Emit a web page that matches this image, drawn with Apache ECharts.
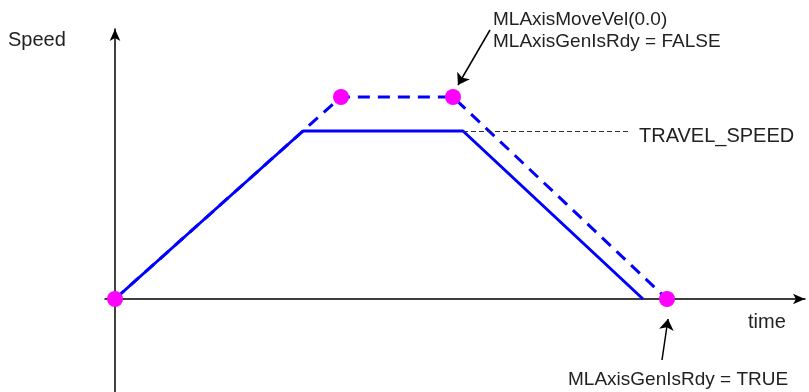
<!DOCTYPE html>
<html>
<head>
<meta charset="utf-8">
<script src="https://cdn.jsdelivr.net/npm/echarts@6/dist/echarts.min.js"></script>
<style>
  html, body { margin: 0; padding: 0; background: #fff; }
  #chart { width: 809px; height: 392px; }
</style>
</head>
<body>
<div id="chart"></div>
<script>
// profile corners (time / speed units)
const plannedTime = [0, 188, 348, 528];
const plannedSpeed = [0, 168, 168, 0];
const actualTime = [0, 226, 338, 552];
const actualSpeed = [0, 202, 202, 0];
const travelSpeed = 168;
const travelLineEnd = 513;

const FONT = '19px "Liberation Sans", Arial, sans-serif';
const BIG = '20px "Liberation Sans", Arial, sans-serif';

const chart = echarts.init(document.getElementById('chart'));

const zip = (xs, ys) => xs.map((x, i) => [x, ys[i]]);

const option = {
    animation: false,
    grid: { left: 105, right: 4, top: 29, bottom: 0 },
    xAxis: {
        type: 'value',
        min: -10,
        max: 690,
        axisLine: {
            onZero: true,
            symbol: ['none', 'arrow'],
            symbolSize: [8, 12],
            lineStyle: { color: '#000', width: 1.5 }
        },
        axisTick: { show: false },
        axisLabel: { show: false },
        splitLine: { show: false }
    },
    yAxis: {
        type: 'value',
        min: -93,
        max: 270,
        axisLine: {
            onZero: true,
            symbol: ['none', 'arrow'],
            symbolSize: [8, 12],
            lineStyle: { color: '#000', width: 1.5 }
        },
        axisTick: { show: false },
        axisLabel: { show: false },
        splitLine: { show: false }
    },
    series: [
        {
            name: 'planned',
            type: 'line',
            data: zip(plannedTime, plannedSpeed),
            symbol: 'none',
            lineStyle: { color: '#0000ff', width: 3 },
            markLine: {
                silent: true,
                symbol: 'none',
                label: { show: false },
                lineStyle: { color: '#333', width: 1, type: [5, 3] },
                data: [[
                    { coord: [plannedTime[2], travelSpeed] },
                    { coord: [travelLineEnd, travelSpeed] }
                ]]
            }
        },
        {
            name: 'actual',
            type: 'line',
            data: zip(actualTime, actualSpeed),
            symbol: 'none',
            lineStyle: { color: '#0000ff', width: 3, type: [12, 8] },
            markLine: {
                silent: true,
                label: { show: false },
                symbolSize: 11,
                lineStyle: { color: '#000', width: 1.5, type: 'solid' },
                data: [
                    [
                        { coord: [375, 269], symbol: 'none' },
                        { coord: [343, 214], symbol: 'arrow' }
                    ],
                    [
                        { coord: [547, -61], symbol: 'none' },
                        { coord: [553, -20], symbol: 'arrow' }
                    ]
                ]
            }
        },
        {
            name: 'events',
            type: 'scatter',
            data: zip(actualTime, actualSpeed),
            symbolSize: 16,
            itemStyle: { color: '#ff00ff', opacity: 1 },
            z: 5
        }
    ],
    graphic: [
        { type: 'text', x: 8, y: 40, style: { text: 'Speed', font: BIG, fill: '#222', textVerticalAlign: 'middle' } },
        { type: 'text', x: 748, y: 322, style: { text: 'time', font: BIG, fill: '#222', textVerticalAlign: 'middle' } },
        { type: 'text', x: 639, y: 136, style: { text: 'TRAVEL_SPEED', font: BIG, fill: '#222', textVerticalAlign: 'middle' } },
        { type: 'text', x: 493, y: 20, style: { text: 'MLAxisMoveVel(0.0)', font: FONT, fill: '#222', textVerticalAlign: 'middle' } },
        { type: 'text', x: 493, y: 42, style: { text: 'MLAxisGenIsRdy = FALSE', font: FONT, fill: '#222', textVerticalAlign: 'middle' } },
        { type: 'text', x: 568, y: 380, style: { text: 'MLAxisGenIsRdy = TRUE', font: FONT, fill: '#222', textVerticalAlign: 'middle' } }
    ]
};

chart.setOption(option);
</script>
</body>
</html>
